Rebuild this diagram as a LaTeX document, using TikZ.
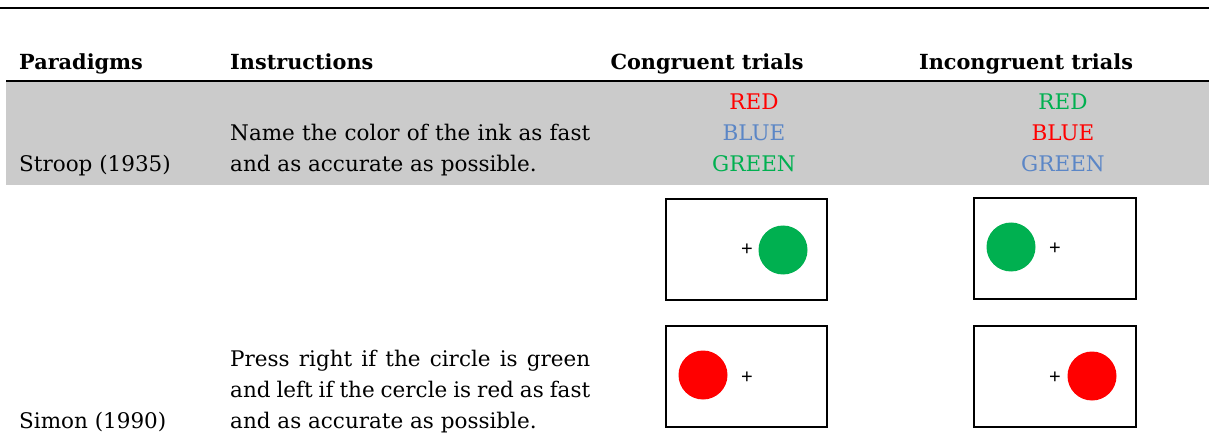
\documentclass[tikz,border=0pt]{standalone}
\usepackage{fontspec}
\setmainfont{DejaVu Serif}
\newfontfamily\plusfont{Liberation Sans}
\definecolor{bandgray}{HTML}{CBCBCB}
\definecolor{wred}{HTML}{FF0000}
\definecolor{wblue}{HTML}{5B86C6}
\definecolor{wgreen}{HTML}{00B050}
\begin{document}
\begin{tikzpicture}[x=1pt,y=-1pt,
  txt/.style={inner sep=0pt,anchor=base west,font=\fontsize{21.5}{31}\selectfont},
  hdr/.style={inner sep=0pt,anchor=base west,font=\fontsize{20.8}{31}\selectfont\bfseries},
  word/.style={inner sep=0pt,anchor=base,font=\fontsize{21.5}{31}\selectfont},
  screen/.style={draw=black,line width=2pt,minimum width=161pt,minimum height=101pt,inner sep=0pt},
  dot/.style={circle,minimum size=49pt,inner sep=0pt},
  plus/.style={inner sep=0pt,font=\plusfont\fontsize{20}{20}\selectfont},
  rule/.style={line width=1.5pt}]
\useasboundingbox (0,0) rectangle (1209,438);
% band
\fill[bandgray] (6,82) rectangle (1209,185);
% rules
\coordinate (t1) at (0,8);
\coordinate (t2) at (1209,8);
\coordinate (h1) at (6,81);
\coordinate (h2) at (1209,81);
\draw[rule] (t1) -- (t2);
\draw[rule] (h1) -- (h2);
% header
\node[hdr] (hpar) at (19,70) {Paradigms};
\node[hdr] (hins) at (230,70) {Instructions};
\node[hdr,anchor=base] (hcon) at (707,70) {Congruent trials};
\node[hdr,anchor=base] (hinc) at (1026,70) {Incongruent trials};
% Stroop row
\node[txt] (stroop) at (19,172) {Stroop (1935)};
\node[txt] (si1) at (230,141) {\makebox[360pt][s]{Name the color of the ink as fast}};
\node[txt] (si2) at (230,172) {and as accurate as possible.};
\node[word,text=wred] (c1) at (754,110) {RED};
\node[word,text=wblue] (c2) at (754,141) {BLUE};
\node[word,text=wgreen] (c3) at (754,172) {GREEN};
\node[word,text=wgreen] (i1) at (1063,110) {RED};
\node[word,text=wred] (i2) at (1063,141) {BLUE};
\node[word,text=wblue] (i3) at (1063,172) {GREEN};
% Simon row
\node[txt] (simon) at (19,428) {Simon (1990)};
\node[txt] (mi1) at (230,366) {\makebox[360pt][s]{Press right if the circle is green}};
\node[txt] (mi2) at (230,397) {\makebox[360pt][s]{and left if the cercle is red as fast}};
\node[txt] (mi3) at (230,428) {and as accurate as possible.};
% screens
\node[screen] (s1) at (746.5,249.5) {};
\node[screen,minimum width=162pt] (s2) at (1055,248.5) {};
\node[screen] (s3) at (746.5,376.5) {};
\node[screen,minimum width=162pt] (s4) at (1055,376.5) {};
\node[dot,fill=wgreen] (g1) at (783,250) {};
\node[plus] (p1) at (747,250) {+};
\node[dot,fill=wgreen] (g2) at (1011,247) {};
\node[plus] (p2) at (1055,249) {+};
\node[dot,fill=wred] (r1) at (703,375) {};
\node[plus] (p3) at (747,378) {+};
\node[dot,fill=wred] (r2) at (1092,376) {};
\node[plus] (p4) at (1055,378) {+};
\end{tikzpicture}
\end{document}
